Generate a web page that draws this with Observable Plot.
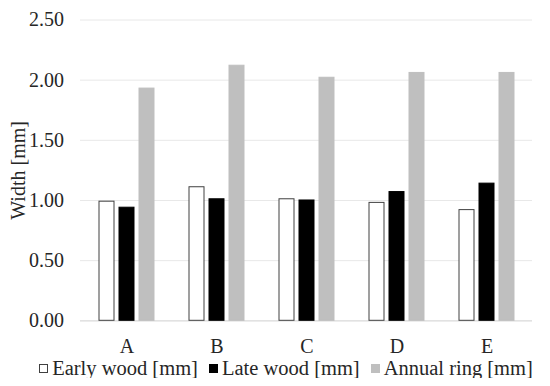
<!DOCTYPE html>
<html><head><meta charset="utf-8">
<script src="https://cdn.jsdelivr.net/npm/d3@7"></script>
<script src="https://cdn.jsdelivr.net/npm/@observablehq/plot@0.6"></script>
<style>
body{margin:0;background:#fff;font-family:"Liberation Serif","Times New Roman",serif;}
#chart{position:relative;width:550px;height:358px;}
#chart svg{position:absolute;left:0;top:0;}
#chart svg text{font-family:"Liberation Serif","Times New Roman",serif !important;font-size:20px;}
#legend{display:flex;justify-content:center;align-items:center;height:20px;line-height:20px;font-size:20.5px;color:#262626;gap:11px;margin-left:22px;}
#legend .item{display:flex;align-items:center;white-space:nowrap;}
#legend .sw{width:9px;height:9px;box-sizing:border-box;margin-right:4px;}
</style></head>
<body><div id="chart"></div><div id="legend"></div>
<script>
const groups = ["A","B","C","D","E"];
const series = ["Early wood [mm]","Late wood [mm]","Annual ring [mm]"];
const earlyWood = [0.99,1.11,1.01,0.98,0.92];
const lateWood = [0.94,1.01,1.00,1.07,1.14];
const annualRing = [1.93,2.12,2.02,2.06,2.06];
const yTicks = [0,0.5,1,1.5,2,2.5];
const yTitle = "Width [mm]";
const fills = ["#ffffff","#000000","#bfbfbf"];
const strokes = ["#404040","#000000","#bfbfbf"];

const valuesBySeries = [earlyWood, lateWood, annualRing];
const data = groups.flatMap((g,i)=>series.map((s,j)=>({group:g, series:s, value:valuesBySeries[j][i]})));

const common = {width:550, height:358, marginLeft:80, marginRight:18, marginTop:19.5, marginBottom:37.7};
const font = "'Liberation Serif','Times New Roman',serif";

const gridPlot = Plot.plot({
  ...common,
  style:{background:"#fff"},
  x:{axis:null},
  y:{domain:[0,2.5], axis:null},
  marks:[
    Plot.ruleY(yTicks.filter(d=>d>0), {stroke:"#e8e8e8"}),
    Plot.ruleY([0], {stroke:"#d9d9d9", strokeWidth:1.2})
  ]
});

const barMarks = series.map((s,j)=>Plot.barY(data.filter(d=>d.series===s),{
  fx:"group", x:"series", y:"value", fill:fills[j], stroke:strokes[j], strokeWidth:1
}));

const barPlot = Plot.plot({
  ...common,
  style:{fontFamily:font, fontSize:"20px", color:"#262626", background:"transparent"},
  fx:{domain:groups, paddingInner:0.39, paddingOuter:0.195, label:null, axis:"bottom", tickSize:0, tickPadding:18},
  x:{domain:series, paddingInner:0.25, paddingOuter:0, axis:null},
  y:{domain:[0,2.5], ticks:yTicks, tickFormat:d=>d.toFixed(2), tickSize:0, tickPadding:35.5, label:null},
  marks: [
    ...barMarks,
    Plot.text([yTitle], {text:d=>d, frameAnchor:"left", textAnchor:"middle", rotate:-90, dx:-80.5, facet:"super", fill:"#262626", fontSize:20, fontFamily:font})
  ]
});
const chart = document.getElementById("chart");
chart.appendChild(gridPlot);
chart.appendChild(barPlot);

const legend = document.getElementById("legend");
series.forEach((s,j)=>{
  const it = document.createElement("div"); it.className="item";
  const sw = document.createElement("span"); sw.className="sw";
  sw.style.background = fills[j];
  sw.style.border = "1px solid " + (j===0 ? "#404040" : fills[j]);
  const tx = document.createElement("span"); tx.textContent = s;
  it.appendChild(sw); it.appendChild(tx); legend.appendChild(it);
});
</script>
</body></html>
